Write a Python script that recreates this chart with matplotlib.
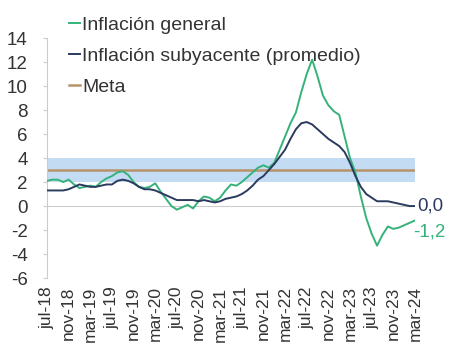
import matplotlib
matplotlib.use("Agg")
import matplotlib.pyplot as plt
import numpy as np

plt.rcParams['font.family'] = ['Liberation Sans', 'DejaVu Sans']

# Monthly data jul-18 .. mar-24
months = ["jul-18", "ago-18", "sep-18", "oct-18", "nov-18", "dic-18",
          "ene-19", "feb-19", "mar-19", "abr-19", "may-19", "jun-19",
          "jul-19", "ago-19", "sep-19", "oct-19", "nov-19", "dic-19",
          "ene-20", "feb-20", "mar-20", "abr-20", "may-20", "jun-20",
          "jul-20", "ago-20", "sep-20", "oct-20", "nov-20", "dic-20",
          "ene-21", "feb-21", "mar-21", "abr-21", "may-21", "jun-21",
          "jul-21", "ago-21", "sep-21", "oct-21", "nov-21", "dic-21",
          "ene-22", "feb-22", "mar-22", "abr-22", "may-22", "jun-22",
          "jul-22", "ago-22", "sep-22", "oct-22", "nov-22", "dic-22",
          "ene-23", "feb-23", "mar-23", "abr-23", "may-23", "jun-23",
          "jul-23", "ago-23", "sep-23", "oct-23", "nov-23", "dic-23",
          "ene-24", "feb-24", "mar-24"]

general = [2.1, 2.2, 2.2, 2.0, 2.2, 1.8,
           1.5, 1.6, 1.7, 1.6, 2.0, 2.3,
           2.5, 2.8, 2.9, 2.6, 2.0, 1.6,
           1.5, 1.6, 1.9, 1.2, 0.6, 0.0,
           -0.3, -0.1, 0.1, -0.2, 0.4, 0.8,
           0.7, 0.4, 0.7, 1.3, 1.8, 1.7,
           2.0, 2.4, 2.8, 3.2, 3.4, 3.2,
           3.6, 4.7, 5.8, 6.9, 7.8, 9.5,
           11.0, 12.2, 10.8, 9.2, 8.4, 7.9,
           7.6, 5.8, 4.0, 2.8, 0.8, -1.0,
           -2.3, -3.3, -2.4, -1.7, -1.9, -1.8,
           -1.6, -1.4, -1.2]

subyacente = [1.3, 1.3, 1.3, 1.3, 1.4, 1.6,
              1.8, 1.7, 1.6, 1.6, 1.7, 1.8,
              1.8, 2.1, 2.2, 2.1, 1.9, 1.6,
              1.4, 1.4, 1.3, 1.1, 0.9, 0.7,
              0.5, 0.5, 0.5, 0.5, 0.4, 0.5,
              0.4, 0.3, 0.4, 0.6, 0.7, 0.8,
              1.0, 1.3, 1.7, 2.2, 2.5, 3.0,
              3.5, 4.1, 4.7, 5.6, 6.4, 6.9,
              7.0, 6.8, 6.4, 6.0, 5.6, 5.3,
              5.0, 4.5, 3.6, 2.5, 1.6, 1.0,
              0.7, 0.4, 0.4, 0.4, 0.3, 0.2,
              0.1, 0.0, 0.0]

meta = 3.0
band_low, band_high = 2.0, 4.0

tick_labels = ["jul-18", "nov-18", "mar-19", "jul-19", "nov-19", "mar-20",
               "jul-20", "nov-20", "mar-21", "jul-21", "nov-21", "mar-22",
               "jul-22", "nov-22", "mar-23", "jul-23", "nov-23", "mar-24"]
yticks = [-6, -4, -2, 0, 2, 4, 6, 8, 10, 12, 14]

c_gen = "#35b27a"
c_sub = "#2b3a5e"
c_meta = "#b8926a"
c_band = "#c4dcf3"
c_txt = "#333333"

x = np.arange(len(months))

fig = plt.figure(figsize=(4.52, 3.52), dpi=100)
ax = fig.add_axes([0.104, 0.21, 0.814, 0.682])

ax.axhspan(band_low, band_high, color=c_band, lw=0, zorder=1)
ax.axhline(0, color="#cccccc", lw=0.8, zorder=1)
l1, = ax.plot(x, general, color=c_gen, lw=1.4, zorder=3, label="Inflación general")
l2, = ax.plot(x, subyacente, color=c_sub, lw=1.4, zorder=4, label="Inflación subyacente (promedio)")
l3, = ax.plot(x, [meta] * len(x), color=c_meta, lw=1.8, zorder=2, label="Meta")

ax.set_xlim(0, len(x) - 1)
ax.set_ylim(-6, 14)
ax.set_yticks(yticks)
ax.set_yticklabels([str(v) for v in yticks])
ax.tick_params(axis='y', length=3, color="#cccccc", labelsize=13.5, labelcolor=c_txt, pad=11)

pos = [months.index(t) for t in tick_labels]
ax.set_xticks(pos)
ax.set_xticklabels(tick_labels, rotation=90, fontsize=12.5, color=c_txt)
ax.tick_params(axis='x', length=0, pad=6)

for s in ['top', 'right', 'bottom']:
    ax.spines[s].set_visible(False)
ax.spines['left'].set_color("#cccccc")
ax.spines['left'].set_linewidth(0.8)

ax.annotate("0,0", xy=(x[-1], subyacente[-1]), xytext=(2, 0), textcoords="offset points",
            color=c_sub, fontsize=13.5, va="center", ha="left")
ax.annotate("-1,2", xy=(x[-1], general[-1]), xytext=(-1, -8), textcoords="offset points",
            color=c_gen, fontsize=13.5, va="center", ha="left")

leg = fig.legend(handles=[l1, l2, l3], loc="upper left", bbox_to_anchor=(0.115, 1.0),
                 frameon=False, fontsize=14, handlelength=0.6, handletextpad=0.1,
                 labelspacing=0.68, borderaxespad=0.45)
for t in leg.get_texts():
    t.set_color(c_txt)

fig.savefig("out.png", dpi=100)
